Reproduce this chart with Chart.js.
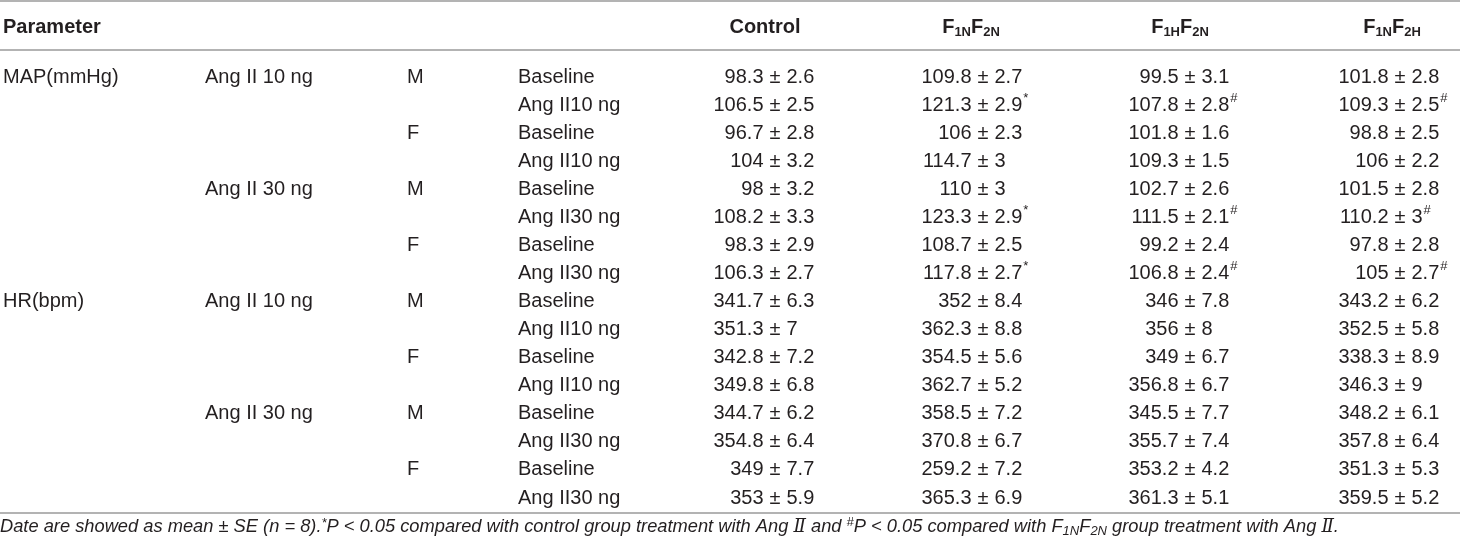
<!DOCTYPE html>
<html>
<head>
<meta charset="utf-8">
<script src="https://cdn.jsdelivr.net/npm/chart.js@4.4.0/dist/chart.umd.min.js"></script>
<style>
    body { margin: 0; background: #ffffff; }
    #wrap { width: 1460px; height: 543px; position: relative; }
</style>
</head>
<body>
<div id="wrap"><canvas id="tableChart"></canvas></div>
<script>
// table contents, one entry per row
const parameters = ["MAP(mmHg)", "", "", "", "", "", "", "", "HR(bpm)", "", "", "", "", "", "", ""];
const doses = ["Ang II 10 ng", "", "", "", "Ang II 30 ng", "", "", "", "Ang II 10 ng", "", "", "", "Ang II 30 ng", "", "", ""];
const sexes = ["M", "", "F", "", "M", "", "F", "", "M", "", "F", "", "M", "", "F", ""];
const conditions = [
    "Baseline", "Ang II10 ng", "Baseline", "Ang II10 ng",
    "Baseline", "Ang II30 ng", "Baseline", "Ang II30 ng",
    "Baseline", "Ang II10 ng", "Baseline", "Ang II10 ng",
    "Baseline", "Ang II30 ng", "Baseline", "Ang II30 ng",
];

const controlMean = [98.3, 106.5, 96.7, 104, 98, 108.2, 98.3, 106.3, 341.7, 351.3, 342.8, 349.8, 344.7, 354.8, 349, 353];
const controlSE = [2.6, 2.5, 2.8, 3.2, 3.2, 3.3, 2.9, 2.7, 6.3, 7, 7.2, 6.8, 6.2, 6.4, 7.7, 5.9];
const controlMark = ["", "", "", "", "", "", "", "", "", "", "", "", "", "", "", ""];

const f1nf2nMean = [109.8, 121.3, 106, 114.7, 110, 123.3, 108.7, 117.8, 352, 362.3, 354.5, 362.7, 358.5, 370.8, 259.2, 365.3];
const f1nf2nSE = [2.7, 2.9, 2.3, 3, 3, 2.9, 2.5, 2.7, 8.4, 8.8, 5.6, 5.2, 7.2, 6.7, 7.2, 6.9];
const f1nf2nMark = ["", "*", "", "", "", "*", "", "*", "", "", "", "", "", "", "", ""];

const f1hf2nMean = [99.5, 107.8, 101.8, 109.3, 102.7, 111.5, 99.2, 106.8, 346, 356, 349, 356.8, 345.5, 355.7, 353.2, 361.3];
const f1hf2nSE = [3.1, 2.8, 1.6, 1.5, 2.6, 2.1, 2.4, 2.4, 7.8, 8, 6.7, 6.7, 7.7, 7.4, 4.2, 5.1];
const f1hf2nMark = ["", "#", "", "", "", "#", "", "#", "", "", "", "", "", "", "", ""];

const f1nf2hMean = [101.8, 109.3, 98.8, 106, 101.5, 110.2, 97.8, 105, 343.2, 352.5, 338.3, 346.3, 348.2, 357.8, 351.3, 359.5];
const f1nf2hSE = [2.8, 2.5, 2.5, 2.2, 2.8, 3, 2.8, 2.7, 6.2, 5.8, 8.9, 9, 6.1, 6.4, 5.3, 5.2];
const f1nf2hMark = ["", "#", "", "", "", "#", "", "#", "", "", "", "", "", "", "", ""];

// layout
const TEXT = "#231f20";
const RULE = "#9a9a9a";
const BODY = "20px 'Liberation Sans', Arial, sans-serif";
const BOLD = "bold 20px 'Liberation Sans', Arial, sans-serif";
const BOLD_SUB = "bold 13px 'Liberation Sans', Arial, sans-serif";
const SUP = "13px 'Liberation Sans', Arial, sans-serif";
const NOTE = "italic 18.3px 'Liberation Sans', Arial, sans-serif";
const NOTE_SUB = "italic 13px 'Liberation Sans', Arial, sans-serif";
const NOTE_SUP = "italic 13px 'Liberation Sans', Arial, sans-serif";
const NOTE_ROMAN = "italic 18.3px 'DejaVu Serif', 'Liberation Serif', serif";

const headerRow = -1.78;
const ruleRows = [-2.71, -0.96, 15.53];
const noteRow = 16.03;

const textCols = [
    { key: "param", x: 3, items: parameters },
    { key: "dose", x: 205, items: doses },
    { key: "sex", x: 407, items: sexes },
    { key: "cond", x: 518, items: conditions },
];
const valueCols = [
    { head: [["Control", BOLD, 0]], x: 775, hx: 765, mean: controlMean, se: controlSE, mark: controlMark },
    { head: [["F", BOLD, 0], ["1N", BOLD_SUB, 5], ["F", BOLD, 0], ["2N", BOLD_SUB, 5]], x: 983, hx: 971, mean: f1nf2nMean, se: f1nf2nSE, mark: f1nf2nMark },
    { head: [["F", BOLD, 0], ["1H", BOLD_SUB, 5], ["F", BOLD, 0], ["2N", BOLD_SUB, 5]], x: 1190, hx: 1180, mean: f1hf2nMean, se: f1hf2nSE, mark: f1hf2nMark },
    { head: [["F", BOLD, 0], ["1N", BOLD_SUB, 5], ["F", BOLD, 0], ["2H", BOLD_SUB, 5]], x: 1400, hx: 1392, mean: f1nf2hMean, se: f1nf2hSE, mark: f1nf2hMark },
];

function drawRich(ctx, segs, x, y, align) {
    let total = 0;
    segs.forEach(function (s) {
        ctx.font = s[1];
        total += ctx.measureText(s[0]).width;
    });
    let cx = x;
    if (align === "center") cx = x - total / 2;
    if (align === "right") cx = x - total;
    ctx.textAlign = "left";
    segs.forEach(function (s) {
        ctx.font = s[1];
        ctx.fillText(s[0], cx, y + s[2]);
        cx += ctx.measureText(s[0]).width;
    });
}

function drawValue(ctx, x, y, mean, se, mark) {
    const gap = 11.5;
    ctx.font = BODY;
    ctx.textAlign = "right";
    ctx.fillText(String(mean), x - gap, y);
    ctx.textAlign = "center";
    ctx.fillText("\u00b1", x, y);
    ctx.textAlign = "left";
    const s = String(se);
    ctx.fillText(s, x + gap, y);
    if (mark) {
        const w = ctx.measureText(s).width;
        ctx.font = SUP;
        ctx.fillText(mark, x + gap + w + 1, y - 7);
    }
}

const datasets = textCols.map(function (c) {
    return {
        label: c.key,
        data: c.items.map(function (_, i) { return { x: c.x, y: i }; }),
        pointRadius: 0,
    };
}).concat(valueCols.map(function (c, k) {
    return {
        label: "value" + k,
        data: c.mean.map(function (_, i) { return { x: c.x, y: i }; }),
        pointRadius: 0,
    };
}));

const tablePlugin = {
    id: "tablePlugin",
    afterDatasetsDraw: function (chart) {
        const ctx = chart.ctx;
        const xs = chart.scales.x;
        const ys = chart.scales.y;
        ctx.save();

        // rules
        ctx.strokeStyle = RULE;
        ctx.lineWidth = 1.5;
        ruleRows.forEach(function (r) {
            const py = ys.getPixelForValue(r);
            ctx.beginPath();
            ctx.moveTo(xs.getPixelForValue(0), py);
            ctx.lineTo(xs.getPixelForValue(1460), py);
            ctx.stroke();
        });

        ctx.fillStyle = TEXT;
        ctx.textBaseline = "middle";

        // header
        const hy = ys.getPixelForValue(headerRow);
        ctx.font = BOLD;
        ctx.textAlign = "left";
        ctx.fillText("Parameter", xs.getPixelForValue(3), hy);
        valueCols.forEach(function (c) {
            drawRich(ctx, c.head, xs.getPixelForValue(c.hx), hy, "center");
        });

        // body
        textCols.forEach(function (c, k) {
            const meta = chart.getDatasetMeta(k);
            ctx.font = BODY;
            ctx.textAlign = "left";
            meta.data.forEach(function (pt, i) {
                if (c.items[i]) ctx.fillText(c.items[i], pt.x, pt.y);
            });
        });
        valueCols.forEach(function (c, k) {
            const meta = chart.getDatasetMeta(textCols.length + k);
            meta.data.forEach(function (pt, i) {
                drawValue(ctx, pt.x, pt.y, c.mean[i], c.se[i], c.mark[i]);
            });
        });

        // footnote
        const ny = ys.getPixelForValue(noteRow);
        drawRich(ctx, [
            ["Date are showed as mean \u00b1 SE (n = 8).", NOTE, 0],
            ["*", NOTE_SUP, -4],
            ["P < 0.05 compared with control group treatment with Ang ", NOTE, 0],
            ["\u2161", NOTE_ROMAN, 0],
            [" and ", NOTE, 0],
            ["#", NOTE_SUP, -5],
            ["P < 0.05 compared with F", NOTE, 0],
            ["1N", NOTE_SUB, 4],
            ["F", NOTE, 0],
            ["2N", NOTE_SUB, 4],
            [" group treatment with Ang ", NOTE, 0],
            ["\u2161", NOTE_ROMAN, 0],
            [".", NOTE, 0],
        ], xs.getPixelForValue(0), ny, "left");

        ctx.restore();
    },
};

const tableChart = new Chart(document.getElementById("tableChart"), {
    type: "scatter",
    data: { datasets: datasets },
    options: {
        responsive: true,
        maintainAspectRatio: false,
        animation: false,
        events: [],
        layout: { padding: 0 },
        scales: {
            x: { type: "linear", min: 0, max: 1460, display: false },
            y: { type: "linear", reverse: true, min: -2.743, max: 16.602, display: false },
        },
        plugins: {
            legend: { display: false },
            tooltip: { enabled: false },
        },
    },
    plugins: [tablePlugin],
});
</script>
</body>
</html>
